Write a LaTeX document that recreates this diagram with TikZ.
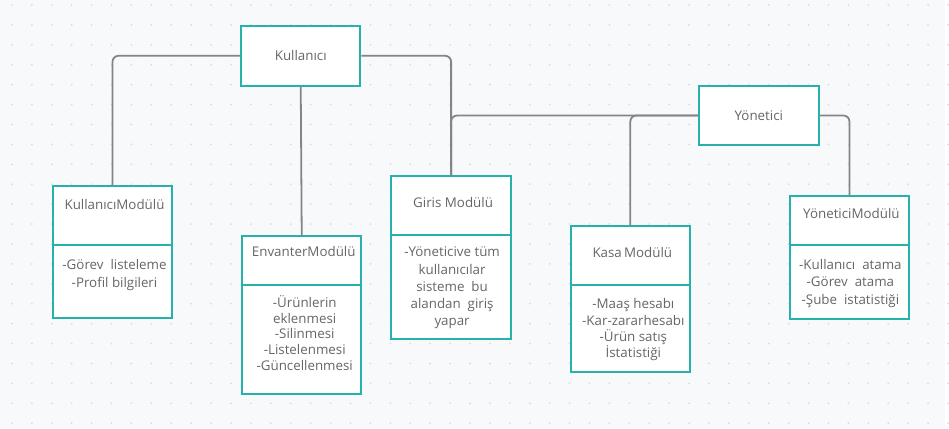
\documentclass[tikz,border=0pt]{standalone}
\usepackage{fontspec}
\setmainfont{Open Sans}
\definecolor{boxcol}{HTML}{27B1AC}
\definecolor{linecol}{HTML}{858585}
\definecolor{txtcol}{HTML}{666666}
\definecolor{bgcol}{HTML}{F8F9FB}
\definecolor{dotcol}{HTML}{DADCE0}
\newcommand{\tsize}[1]{\fontsize{13.4}{#1}\selectfont\lineskiplimit=-20pt}

\begin{document}
\begin{tikzpicture}[x=1pt,y=-1pt,
    box/.style={draw=boxcol,line width=2pt,fill=white,inner sep=0pt,minimum width=120pt},
    boxline/.style={draw=boxcol,line width=2pt},
    link/.style={draw=linecol,line width=1.8pt,rounded corners=6pt},
    txt/.style={text=txtcol,inner sep=0pt,align=center,font=\tsize{17}}]
  % background with dot grid
  \fill[bgcol] (0,0) rectangle (949,430);
  \foreach \i in {0,...,47}
    \foreach \j in {0,...,21}
      \fill[dotcol] (12+20*\i,5+20*\j) circle (1pt);
  \useasboundingbox (0,0) rectangle (949,430);

  % roles
  \node[box,txt,minimum height=60pt] (kul) at (302,56) {Kullanıcı};
  \node[box,txt,minimum height=60pt] (yon) at (762,116) {Yönetici};

  % module boxes
  \node[box,anchor=north west,minimum height=132pt] (kmod) at (52,186) {};
  \node[box,anchor=north west,minimum height=159pt] (emod) at (242,236) {};
  \node[box,anchor=north west,minimum height=163pt] (gmod) at (392,176) {};
  \node[box,anchor=north west,minimum height=147pt] (kasa) at (572,226) {};
  \node[box,anchor=north west,minimum height=123pt] (ymod) at (792,196) {};
  \draw[boxline] (kmod.west |- 0,246) -- (kmod.east |- 0,246);
  \draw[boxline] (emod.west |- 0,286) -- (emod.east |- 0,286);
  \draw[boxline] (gmod.west |- 0,236) -- (gmod.east |- 0,236);
  \draw[boxline] (kasa.west |- 0,286) -- (kasa.east |- 0,286);
  \draw[boxline] (ymod.west |- 0,246) -- (ymod.east |- 0,246);

  % titles
  \node[txt,anchor=base] (kmodt) at (115,210) {KullanıcıModülü};
  \node[txt,anchor=base] (emodt) at (305,257.5) {EnvanterModülü};
  \node[txt,anchor=base] (gmodt) at (455,208.5) {Giris Modülü};
  \node[txt,anchor=base] (kasat) at (635,258.5) {Kasa\,Modülü};
  \node[txt,anchor=base] (ymodt) at (855,219.5) {YöneticiModülü};

  % contents (base = last line)
  \node[txt,anchor=base,font=\tsize{18}] (kmodb) at (115,288.5)
    {-Görev\ \ listeleme\\-Profil bilgileri};
  \node[txt,anchor=base,font=\tsize{15.8}] (emodb) at (306,372)
    {-Ürünlerin\\eklenmesi\\-Silinmesi\\-Listelenmesi\\-Güncellenmesi};
  \node[txt,anchor=base,font=\tsize{17.3}] (gmodb) at (454,327.2)
    {-Yöneticive tüm\\kullanıcılar\\sisteme\ \ bu\\alandan\ \ giriş\\yapar};
  \node[txt,anchor=base,font=\tsize{16.4}] (kasab) at (636,359.5)
    {-Maaş hesabı\\-Kar-zararhesabı\\-Ürün satış\\İstatistiği};
  \node[txt,anchor=base,font=\tsize{17.5}] (ymodb) at (854,305.5)
    {-Kullanıcı\ \ atama\\-Görev\ \ atama\\-Şube\ \ istatistiği};

  % connectors
  \draw[link] (kul.west) -| (kmod.north);
  \draw[link] (kul.south) -- (emod.north);
  \draw[link] (kul.east) -| (gmod.north);
  \draw[link] (yon.west) -| (gmod.north);
  \draw[link] (yon.west) -| (kasa.north);
  \draw[link] (yon.east) -| (ymod.north);
\end{tikzpicture}
\end{document}
